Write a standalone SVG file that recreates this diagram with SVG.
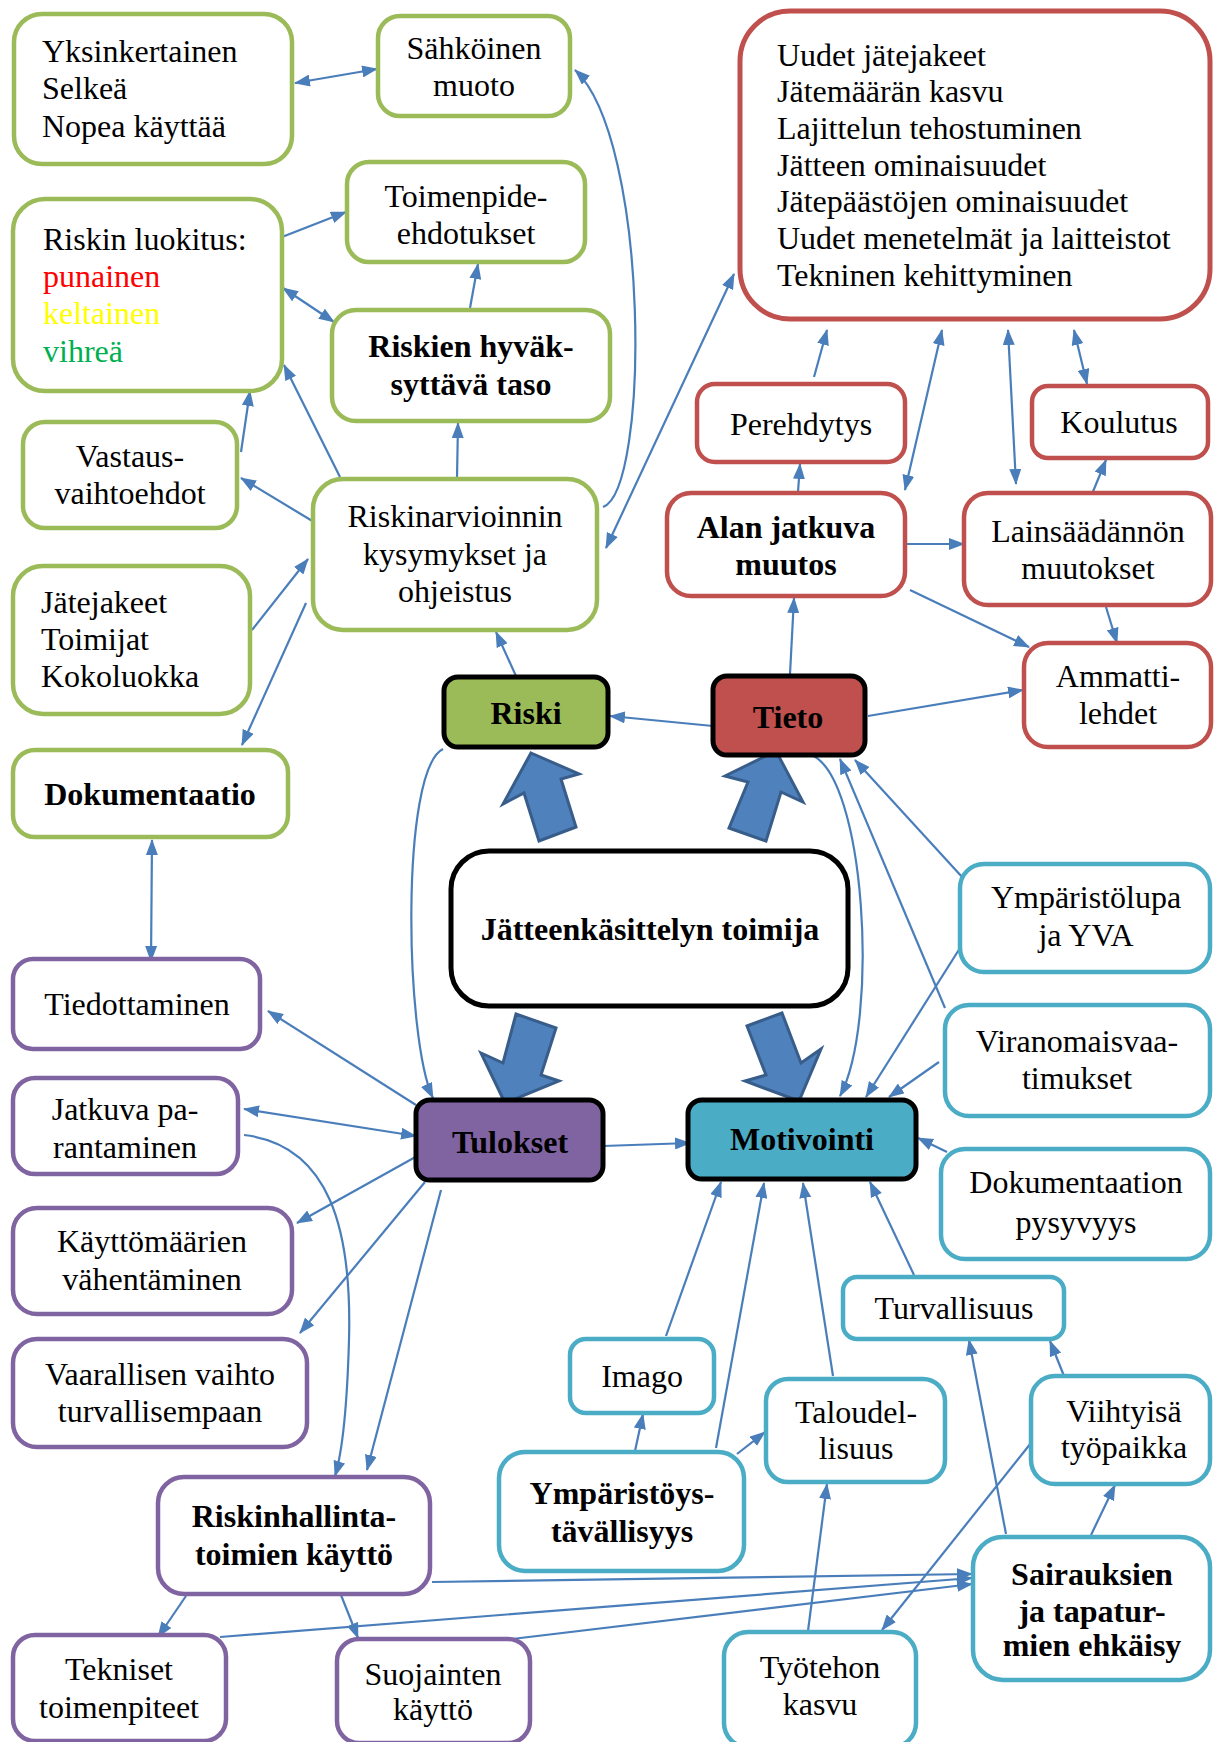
<svg xmlns="http://www.w3.org/2000/svg" width="1215" height="1742" viewBox="0 0 1215 1742">
  <style>
    text { font-family: "Liberation Serif", "Times New Roman", serif; font-size: 32px; fill: #000; }
    .m { text-anchor: middle; }
    .b { font-weight: bold; }
    .node rect { fill: #fff; stroke-width: 4.5; }
    .g rect { stroke: #9bbb59; }
    .r rect { stroke: #c0504d; }
    .p rect { stroke: #8064a2; }
    .c rect { stroke: #4bacc6; }
    .k rect { stroke: #000; stroke-width: 5; }
    #connectors path { fill: none; stroke: #4a7ebb; stroke-width: 2.2; marker-end: url(#ah); }
    #connectors path.d { marker-start: url(#ah); }
    #blocks polygon { fill: #4f81bd; stroke: #385d8a; stroke-width: 3; stroke-linejoin: miter; }
  </style>
  <defs>
    <marker id="ah" markerUnits="userSpaceOnUse" markerWidth="16" markerHeight="12" refX="15" refY="6" orient="auto-start-reverse">
      <path d="M0,0 L16,6 L0,12 Z" fill="#4a7ebb"/>
    </marker>
  </defs>

  <rect width="1215" height="1742" fill="#fff"/>

  <!-- connectors -->
  <g id="connectors">
    <path class="d" d="M295,83 L377,69"/>
    <path d="M282,237 L346,212"/>
    <path class="d" d="M283,288 L334,322"/>
    <path d="M470,308 L478,264"/>
    <path d="M241,452 L250,391"/>
    <path d="M340,477 L284,365"/>
    <path d="M457,478 L458,423"/>
    <path d="M314,522 L241,478"/>
    <path d="M252,630 L308,559"/>
    <path d="M306,603 L242,745"/>
    <path d="M516,676 L496,632"/>
    <path d="M603,507 C650,490 650,140 575,70"/>
    <path class="d" d="M606,548 L734,274"/>
    <path d="M814,377 L827,330"/>
    <path class="d" d="M942,330 L905,490"/>
    <path class="d" d="M1008,330 L1016,484"/>
    <path class="d" d="M1074,330 L1087,384"/>
    <path d="M798,492 L800,464"/>
    <path d="M907,544 L964,544"/>
    <path d="M910,590 L1029,647"/>
    <path d="M1106,607 L1117,643"/>
    <path d="M1092,494 L1106,460"/>
    <path d="M790,674 L794,598"/>
    <path d="M868,716 L1023,690"/>
    <path d="M713,726 L610,716"/>
    <path d="M443,749 C400,770 405,1040 433,1098"/>
    <path d="M811,755 C865,775 880,1020 840,1096"/>
    <path d="M945,1008 L840,759"/>
    <path d="M963,878 L855,760"/>
    <path d="M960,948 L866,1097"/>
    <path d="M939,1062 L889,1097"/>
    <path d="M947,1152 L918,1138"/>
    <path d="M603,1146 L690,1143"/>
    <path class="d" d="M152,840 L151,961"/>
    <path d="M416,1105 L268,1011"/>
    <path class="d" d="M244,1109 L416,1136"/>
    <path d="M244,1135 C330,1145 352,1230 349,1340 C347,1410 343,1450 335,1476"/>
    <path d="M419,1155 L297,1223"/>
    <path d="M425,1182 L300,1333"/>
    <path d="M441,1190 L367,1470"/>
    <path d="M186,1596 L158,1637"/>
    <path d="M341,1595 L358,1638"/>
    <path d="M432,1582 L972,1574"/>
    <path d="M220,1637 L972,1578"/>
    <path d="M512,1639 L972,1584"/>
    <path d="M635,1451 L643,1414"/>
    <path d="M716,1448 L764,1183"/>
    <path d="M737,1454 L765,1432"/>
    <path d="M833,1376 L803,1183"/>
    <path d="M666,1336 L721,1182"/>
    <path d="M808,1631 L827,1484"/>
    <path d="M1006,1534 L969,1340"/>
    <path d="M1064,1376 L1050,1341"/>
    <path d="M1091,1535 L1115,1485"/>
    <path d="M1031,1443 L882,1630"/>
    <path d="M914,1275 L870,1182"/>
  </g>

  <!-- wide block arrows around the central node -->
  <g id="blocks">
    <polygon points="531,753 579,774 561,779 576,827 539,841 524,793 503,804"/>
    <polygon points="776,751 803,802 781,792 766,841 729,828 748,782 725,776"/>
    <polygon points="505,1103 481,1053 503,1063 516,1014 556,1028 541,1075 559,1081"/>
    <polygon points="799,1101 745,1081 766,1075 747,1026 782,1013 801,1063 821,1049"/>
  </g>

  <!-- risk nodes -->
  <g id="yksinkertainen" class="node g">
    <rect x="14" y="14" width="278" height="150" rx="28"/>
    <text x="42" y="62">Yksinkertainen</text>
    <text x="42" y="99">Selkeä</text>
    <text x="42" y="137">Nopea käyttää</text>
  </g>
  <g id="sahkoinen" class="node g">
    <rect x="378" y="16" width="192" height="100" rx="22"/>
    <text class="m" x="474" y="59">Sähköinen</text>
    <text class="m" x="474" y="96">muoto</text>
  </g>
  <g id="toimenpide" class="node g">
    <rect x="347" y="162" width="238" height="100" rx="22"/>
    <text class="m" x="466" y="207">Toimenpide-</text>
    <text class="m" x="466" y="244">ehdotukset</text>
  </g>
  <g id="luokitus" class="node g">
    <rect x="13" y="199" width="269" height="192" rx="32"/>
    <text x="43" y="250">Riskin luokitus:</text>
    <text x="43" y="287" style="fill:#ff0000">punainen</text>
    <text x="43" y="324" style="fill:#ffff00">keltainen</text>
    <text x="43" y="362" style="fill:#00b050">vihreä</text>
  </g>
  <g id="hyvaksyttava" class="node g">
    <rect x="332" y="310" width="278" height="111" rx="24"/>
    <text class="m b" x="471" y="357">Riskien hyväk-</text>
    <text class="m b" x="471" y="395">syttävä taso</text>
  </g>
  <g id="vastaus" class="node g">
    <rect x="23" y="422" width="214" height="106" rx="22"/>
    <text class="m" x="130" y="467">Vastaus-</text>
    <text class="m" x="130" y="504">vaihtoehdot</text>
  </g>
  <g id="riskinarvioinnin" class="node g">
    <rect x="313" y="479" width="284" height="151" rx="30"/>
    <text class="m" x="455" y="527">Riskinarvioinnin</text>
    <text class="m" x="455" y="565">kysymykset ja</text>
    <text class="m" x="455" y="602">ohjeistus</text>
  </g>
  <g id="jatejakeet" class="node g">
    <rect x="13" y="566" width="237" height="148" rx="30"/>
    <text x="41" y="613">Jätejakeet</text>
    <text x="41" y="650">Toimijat</text>
    <text x="41" y="687">Kokoluokka</text>
  </g>
  <g id="dokumentaatio" class="node g">
    <rect x="13" y="750" width="275" height="87" rx="22"/>
    <text class="m b" x="150" y="805">Dokumentaatio</text>
  </g>

  <!-- knowledge nodes -->
  <g id="muutostekijat" class="node r">
    <rect x="740" y="11" width="470" height="308" rx="50" style="stroke-width:5"/>
    <text x="777" y="66">Uudet jätejakeet</text>
    <text x="777" y="102">Jätemäärän kasvu</text>
    <text x="777" y="139">Lajittelun tehostuminen</text>
    <text x="777" y="176">Jätteen ominaisuudet</text>
    <text x="777" y="212">Jätepäästöjen ominaisuudet</text>
    <text x="777" y="249">Uudet menetelmät ja laitteistot</text>
    <text x="777" y="286">Tekninen kehittyminen</text>
  </g>
  <g id="perehdytys" class="node r">
    <rect x="697" y="384" width="208" height="78" rx="18"/>
    <text class="m" x="801" y="435">Perehdytys</text>
  </g>
  <g id="koulutus" class="node r">
    <rect x="1032" y="386" width="176" height="72" rx="16"/>
    <text class="m" x="1119" y="433">Koulutus</text>
  </g>
  <g id="alan-muutos" class="node r">
    <rect x="667" y="493" width="238" height="103" rx="24"/>
    <text class="m b" x="786" y="538">Alan jatkuva</text>
    <text class="m b" x="786" y="575">muutos</text>
  </g>
  <g id="lainsaadanto" class="node r">
    <rect x="964" y="493" width="247" height="112" rx="24"/>
    <text class="m" x="1088" y="542">Lainsäädännön</text>
    <text class="m" x="1088" y="579">muutokset</text>
  </g>
  <g id="ammattilehdet" class="node r">
    <rect x="1024" y="643" width="187" height="104" rx="24"/>
    <text class="m" x="1118" y="687">Ammatti-</text>
    <text class="m" x="1118" y="724">lehdet</text>
  </g>

  <!-- core nodes -->
  <g id="riski" class="node k">
    <rect x="444" y="677" width="164" height="70" rx="14" style="fill:#9bbb59"/>
    <text class="m b" x="526" y="724">Riski</text>
  </g>
  <g id="tieto" class="node k">
    <rect x="713" y="676" width="152" height="79" rx="14" style="fill:#c0504d"/>
    <text class="m b" x="788" y="728">Tieto</text>
  </g>
  <g id="toimija" class="node k">
    <rect x="451" y="851" width="397" height="155" rx="38"/>
    <text class="m b" x="650" y="940">Jätteenkäsittelyn toimija</text>
  </g>
  <g id="tulokset" class="node k">
    <rect x="416" y="1100" width="187" height="80" rx="14" style="fill:#8064a2"/>
    <text class="m b" x="510" y="1153">Tulokset</text>
  </g>
  <g id="motivointi" class="node k">
    <rect x="688" y="1100" width="228" height="79" rx="14" style="fill:#4bacc6"/>
    <text class="m b" x="802" y="1150">Motivointi</text>
  </g>

  <!-- result nodes -->
  <g id="tiedottaminen" class="node p">
    <rect x="13" y="959" width="247" height="90" rx="20"/>
    <text class="m" x="137" y="1015">Tiedottaminen</text>
  </g>
  <g id="jatkuva" class="node p">
    <rect x="13" y="1078" width="225" height="96" rx="22"/>
    <text class="m" x="125" y="1120">Jatkuva pa-</text>
    <text class="m" x="125" y="1158">rantaminen</text>
  </g>
  <g id="kayttomaarat" class="node p">
    <rect x="13" y="1208" width="279" height="106" rx="24"/>
    <text class="m" x="152" y="1252">Käyttömäärien</text>
    <text class="m" x="152" y="1290">vähentäminen</text>
  </g>
  <g id="vaarallinen" class="node p">
    <rect x="13" y="1339" width="294" height="108" rx="24"/>
    <text class="m" x="160" y="1385">Vaarallisen vaihto</text>
    <text class="m" x="160" y="1422">turvallisempaan</text>
  </g>
  <g id="riskinhallinta" class="node p">
    <rect x="158" y="1477" width="272" height="117" rx="26"/>
    <text class="m b" x="294" y="1527">Riskinhallinta-</text>
    <text class="m b" x="294" y="1565">toimien käyttö</text>
  </g>
  <g id="tekniset" class="node p">
    <rect x="13" y="1635" width="213" height="106" rx="22"/>
    <text class="m" x="119" y="1680">Tekniset</text>
    <text class="m" x="119" y="1718">toimenpiteet</text>
  </g>
  <g id="suojaimet" class="node p">
    <rect x="337" y="1639" width="193" height="104" rx="22"/>
    <text class="m" x="433" y="1685">Suojainten</text>
    <text class="m" x="433" y="1720">käyttö</text>
  </g>

  <!-- motivation nodes -->
  <g id="ymparistolupa" class="node c">
    <rect x="960" y="864" width="250" height="108" rx="24"/>
    <text class="m" x="1086" y="908">Ympäristölupa</text>
    <text class="m" x="1086" y="946">ja YVA</text>
  </g>
  <g id="viranomaiset" class="node c">
    <rect x="945" y="1005" width="265" height="111" rx="24"/>
    <text class="m" x="1077" y="1052">Viranomaisvaa-</text>
    <text class="m" x="1077" y="1089">timukset</text>
  </g>
  <g id="pysyvyys" class="node c">
    <rect x="941" y="1149" width="269" height="110" rx="24"/>
    <text class="m" x="1076" y="1193">Dokumentaation</text>
    <text class="m" x="1076" y="1233">pysyvyys</text>
  </g>
  <g id="turvallisuus" class="node c">
    <rect x="843" y="1277" width="221" height="62" rx="14"/>
    <text class="m" x="954" y="1319">Turvallisuus</text>
  </g>
  <g id="imago" class="node c">
    <rect x="570" y="1339" width="144" height="74" rx="16"/>
    <text class="m" x="642" y="1387">Imago</text>
  </g>
  <g id="ymparistoystavallisyys" class="node c">
    <rect x="499" y="1452" width="245" height="119" rx="26"/>
    <text class="m b" x="622" y="1504">Ympäristöys-</text>
    <text class="m b" x="622" y="1542">tävällisyys</text>
  </g>
  <g id="taloudellisuus" class="node c">
    <rect x="766" y="1379" width="179" height="103" rx="22"/>
    <text class="m" x="856" y="1423">Taloudel-</text>
    <text class="m" x="856" y="1459">lisuus</text>
  </g>
  <g id="viihtyisa" class="node c">
    <rect x="1031" y="1376" width="179" height="108" rx="24"/>
    <text class="m" x="1124" y="1422">Viihtyisä</text>
    <text class="m" x="1124" y="1458">työpaikka</text>
  </g>
  <g id="sairaudet" class="node c">
    <rect x="973" y="1537" width="237" height="143" rx="30"/>
    <text class="m b" x="1092" y="1585">Sairauksien</text>
    <text class="m b" x="1092" y="1622">ja tapatur-</text>
    <text class="m b" x="1092" y="1656">mien ehkäisy</text>
  </g>
  <g id="tyoteho" class="node c">
    <rect x="724" y="1632" width="192" height="115" rx="24"/>
    <text class="m" x="820" y="1678">Työtehon</text>
    <text class="m" x="820" y="1715">kasvu</text>
  </g>
</svg>
